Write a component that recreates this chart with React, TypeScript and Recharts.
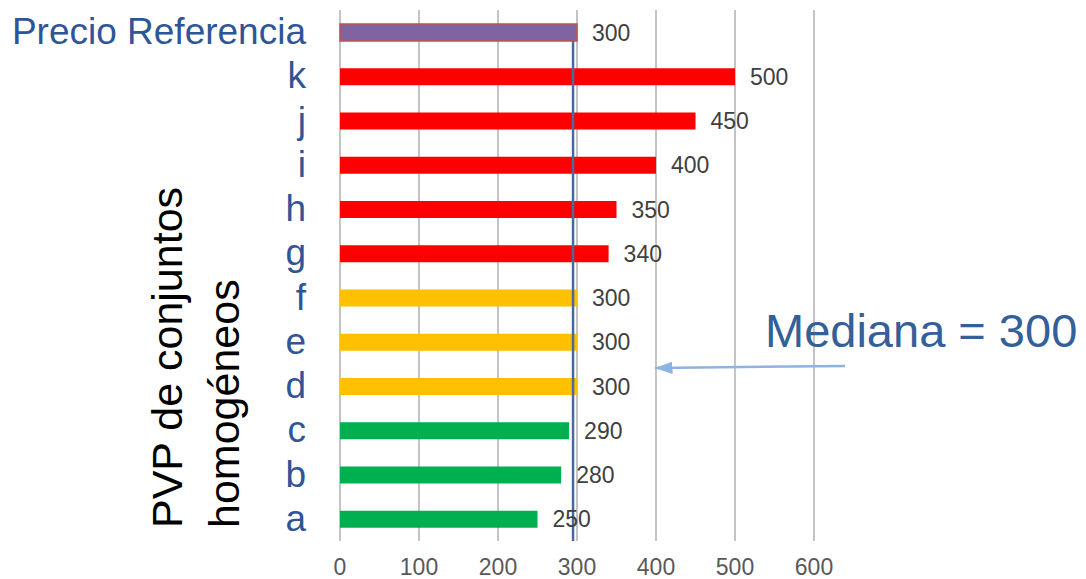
import { BarChart, Bar, XAxis, YAxis, CartesianGrid, ReferenceLine, LabelList, Cell } from "recharts";

// top to bottom, as in the picture
const categories = ["Precio Referencia", "k", "j", "i", "h", "g", "f", "e", "d", "c", "b", "a"];
const prices = [300, 500, 450, 400, 350, 340, 300, 300, 300, 290, 280, 250];
const groups = ["ref", "high", "high", "high", "high", "high", "mid", "mid", "mid", "low", "low", "low"];
const xTicks = [0, 100, 200, 300, 400, 500, 600];

// the median line sits a little left of 300 in the original slide
const medianLine = 295;
const medianText = "Mediana = 300";
const axisTitle = ["PVP de conjuntos", "homogéneos"];

const groupColors: Record<string, string> = {
  ref: "#8064A2",
  high: "#FF0000",
  mid: "#FFC000",
  low: "#00B050",
};

const W = 1086;
const H = 579;
const MARGIN = { top: 10, right: 272, bottom: 0, left: 0 };
const Y_AXIS_W = 340;
const X_AXIS_H = 38;
const BAR_SIZE = 17;
const BAND = (H - MARGIN.top - MARGIN.bottom - X_AXIS_H) / categories.length;

const data = categories.map((name, i) => ({ name, price: prices[i], group: groups[i] }));

const FONT = "'Liberation Sans', Arial, sans-serif";

function CategoryTick({ x, y, payload }: any) {
  return (
    <text
      x={x}
      y={y}
      dy={12}
      textAnchor="end"
      fill="#2F5597"
      fontSize={37}
      fontFamily={FONT}
    >
      {payload.value}
    </text>
  );
}

function MedianShape(props: any) {
  const { x1, y1, x2, y2 } = props;
  return (
    <line
      x1={x1}
      x2={x2}
      y1={y1 + BAR_SIZE / 2}
      y2={y2 + BAND / 2}
      stroke="#4A6A9C"
      strokeWidth={2.5}
    />
  );
}

export default function App() {
  return (
    <div style={{ position: "absolute", left: 0, top: 0, width: W, height: H, background: "#fff", fontFamily: FONT }}>
      <BarChart width={W} height={H} data={data} layout="vertical" margin={MARGIN}>
        <CartesianGrid horizontal={false} stroke="#C4C4C4" strokeWidth={2} />
        <XAxis
          type="number"
          domain={[0, 600]}
          ticks={xTicks}
          height={X_AXIS_H}
          axisLine={false}
          tickLine={false}
          tickSize={0}
          tickMargin={18}
          tick={{ fontSize: 23, fill: "#595959", fontFamily: FONT }}
        />
        <YAxis
          type="category"
          dataKey="name"
          width={Y_AXIS_W}
          axisLine={false}
          tickLine={false}
          tickSize={0}
          tickMargin={34}
          interval={0}
          tick={<CategoryTick />}
        />
        <Bar dataKey="price" barSize={BAR_SIZE} isAnimationActive={false}>
          {data.map((d) => (
            <Cell
              key={d.name}
              fill={groupColors[d.group]}
              stroke={d.group === "ref" ? "#C0504D" : "none"}
              strokeWidth={d.group === "ref" ? 1.5 : 0}
            />
          ))}
          <LabelList
            dataKey="price"
            position="right"
            offset={15}
            fill="#404040"
            fontSize={23}
            fontFamily={FONT}
          />
        </Bar>
        <ReferenceLine
          segment={[
            { x: medianLine, y: categories[0] },
            { x: medianLine, y: categories[categories.length - 1] },
          ]}
          position="middle"
          shape={<MedianShape />}
        />
      </BarChart>
      <svg
        width={W}
        height={H}
        style={{ position: "absolute", left: 0, top: 0, pointerEvents: "none" }}
      >
        <defs>
          <marker id="arrowHead" viewBox="0 0 14 10" refX="14" refY="5" markerWidth="7" markerHeight="5" orient="auto">
            <path d="M0,0 L14,5 L0,10 z" fill="#8DB3E2" />
          </marker>
        </defs>
        <g transform="translate(182,528) rotate(-90)">
          <text x={0} y={0} fontSize={43} fill="#000" fontFamily={FONT}>
            {axisTitle[0]}
          </text>
        </g>
        <g transform="translate(239,528) rotate(-90)">
          <text x={0} y={0} fontSize={43} fill="#000" fontFamily={FONT}>
            {axisTitle[1]}
          </text>
        </g>
        <text x={765} y={347} fontSize={47} fill="#34609A" fontFamily={FONT}>
          {medianText}
        </text>
        <line
          x1={845}
          y1={366}
          x2={655}
          y2={368}
          stroke="#8DB3E2"
          strokeWidth={2.5}
          markerEnd="url(#arrowHead)"
        />
      </svg>
    </div>
  );
}
